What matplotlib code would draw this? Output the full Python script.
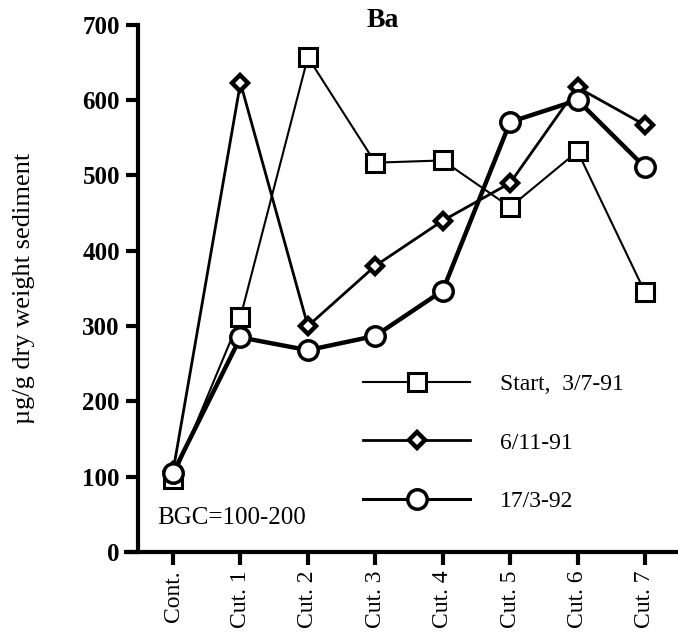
import matplotlib
matplotlib.use("Agg")
import matplotlib.pyplot as plt
import numpy as np

plt.rcParams['font.family'] = ['Liberation Serif', 'DejaVu Serif']

# Data
sites = ["Cont.", "Cut. 1", "Cut. 2", "Cut. 3", "Cut. 4", "Cut. 5", "Cut. 6", "Cut. 7"]
start_3_7_91 = [97, 312, 657, 517, 520, 458, 532, 345]
d_6_11_91 = [107, 623, 300, 380, 440, 490, 617, 567]
d_17_3_92 = [105, 285, 268, 287, 347, 571, 600, 511]
yticks = [0, 100, 200, 300, 400, 500, 600, 700]

x = np.arange(len(sites))

fig = plt.figure(figsize=(6.78, 6.38), dpi=100)
ax = fig.add_axes([0.2035, 0.1348, 0.7965, 0.8262])

ax.plot(x, start_3_7_91, color='black', lw=1.5, marker='s', ms=13,
        mfc='white', mec='black', mew=2.2, label='Start,  3/7-91', zorder=3)
ax.plot(x, d_6_11_91, color='black', lw=2.0, marker='D', ms=8.5,
        mfc='white', mec='black', mew=3.2, label='6/11-91', zorder=3)
ax.plot(x, d_17_3_92, color='black', lw=3.2, marker='o', ms=14,
        mfc='white', mec='black', mew=2.5, label='17/3-92', zorder=3)

ax.set_xlim(-0.52, 7.49)
ax.set_ylim(0, 700)
ax.set_xticks(x)
ax.set_xticklabels(sites, rotation=90, fontsize=17)
ax.set_yticks(yticks)
ax.set_yticklabels([str(v) for v in yticks], fontsize=18, fontweight='bold')

for s in ['top', 'right']:
    ax.spines[s].set_visible(False)
ax.spines['left'].set_linewidth(3)
ax.spines['bottom'].set_linewidth(3)
ax.spines['bottom'].set_bounds(-0.7, 7.49)
ax.tick_params(axis='both', direction='out', length=9, width=3, pad=4)

ax.set_ylabel('µg/g dry weight sediment', fontsize=19, labelpad=34)

ax.text(-0.24, 45, 'BGC=100-200', fontsize=18, va='center', ha='left')

fig.text(0.565, 0.968, 'Ba', fontsize=20, fontweight='bold', ha='center', va='center')

leg = ax.legend(loc='upper left', bbox_to_anchor=(0.4, 0.357), frameon=False,
                fontsize=17, handlelength=4.5, handletextpad=1.3,
                labelspacing=1.58, borderaxespad=0)
widths = [1.5, 2.0, 2.2]
for h, w in zip(leg.legend_handles, widths):
    h.set_linewidth(w)

fig.savefig('out.png', dpi=100)
